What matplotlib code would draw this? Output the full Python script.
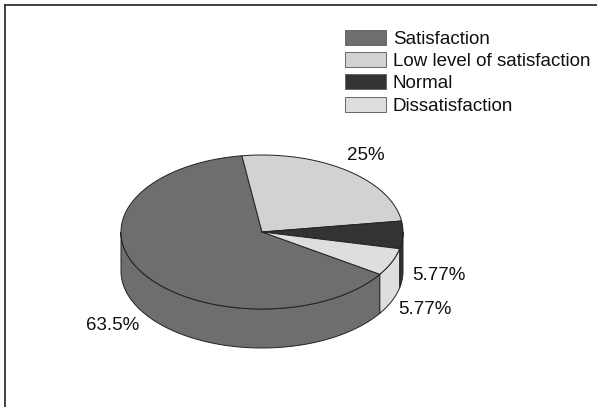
import numpy as np
import matplotlib
matplotlib.use("Agg")
import matplotlib.pyplot as plt
from matplotlib.patches import Patch

categories = ["Satisfaction", "Low level of satisfaction", "Normal", "Dissatisfaction"]
values = [63.5, 25, 5.77, 5.77]
pct_labels = ["63.5%", "25%", "5.77%", "5.77%"]
colors = ["#6e6e6e", "#d2d2d2", "#333333", "#dedede"]

plt.rcParams["font.family"] = ["Liberation Sans", "DejaVu Sans"]

W, H = 597, 407
CX, CY = 262, 232
RX, RY = 141, 77
DEPTH = 39
START = -33.3
EDGE = "#222222"


def ellipse_pts(t):
    return CX + RX * np.cos(np.radians(t)), CY - RY * np.sin(np.radians(t))


fig = plt.figure(figsize=(W / 100, H / 100), dpi=100)
ax = fig.add_axes([5 / W, 0, (W - 5) / W, (H - 5) / H])
ax.set_xlim(5, W)
ax.set_ylim(H, 5)
ax.set_xticks([])
ax.set_yticks([])
for side in ["right", "bottom"]:
    ax.spines[side].set_visible(False)
for side in ["left", "top"]:
    ax.spines[side].set_linewidth(1.3)
    ax.spines[side].set_color("#333333")

# slices go clockwise from START
fracs = np.array(values) / sum(values) * 360
ends = START - np.cumsum(fracs)
starts = ends + fracs

# side walls first, only the front half of the rim shows
for a, b, col in zip(starts, ends, colors):
    for shift in [0, -360, 360]:
        hi = min(a + shift, 0)
        lo = max(b + shift, -180)
        if hi <= lo:
            continue
        t = np.linspace(hi, lo, 120)
        x, y = ellipse_pts(t)
        ax.fill(np.r_[x, x[::-1]], np.r_[y, y[::-1] + DEPTH],
                facecolor=col, edgecolor=EDGE, linewidth=0.7, zorder=2)

# top face
for a, b, col in zip(starts, ends, colors):
    t = np.linspace(a, b, 200)
    x, y = ellipse_pts(t)
    ax.fill(np.r_[CX, x], np.r_[CY, y], facecolor=col, edgecolor=EDGE,
            linewidth=0.7, zorder=3, joinstyle="round")

label_pos = [(113, 326), (366, 156), (439, 276), (425, 310)]
for txt, (lx, ly) in zip(pct_labels, label_pos):
    ax.text(lx, ly, txt, fontsize=13.5, ha="center", va="center", color="#111111")

handles = [Patch(facecolor=c, edgecolor="#666666", linewidth=0.7) for c in colors]
ax.legend(handles, categories, loc="upper left", bbox_to_anchor=(325 / 592, 1 - 10 / 402),
          frameon=False, fontsize=13.5, handlelength=2.19, handleheight=0.85,
          handletextpad=0.37, labelspacing=0.227, borderpad=0.3, labelcolor="#111111")

fig.savefig("out.png", dpi=100)
plt.close(fig)
